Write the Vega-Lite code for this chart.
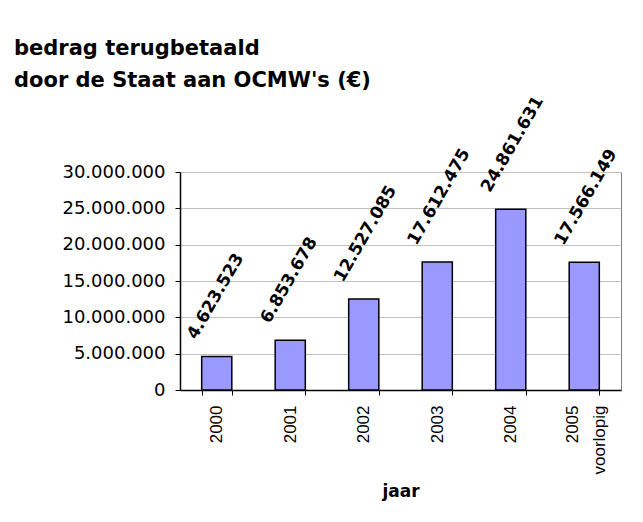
{
  "$schema": "https://vega.github.io/schema/vega-lite/v6.json",
  "width": 441,
  "height": 218,
  "autosize": {"type": "none"},
  "padding": {"left": 180, "top": 172, "right": 22, "bottom": 132},
  "background": "white",
  "config": {
    "locale": {"number": {"decimal": ",", "thousands": ".", "grouping": [3], "currency": ["€", ""]}},
    "font": "Liberation Sans",
    "view": {"stroke": "#808080", "strokeWidth": 1}
  },
  "title": {
    "text": ["bedrag terugbetaald", "door de Staat aan OCMW's (€)"],
    "anchor": "start",
    "frame": "group",
    "dx": -166,
    "fontSize": 21,
    "fontWeight": "bold",
    "font": "DejaVu Sans",
    "color": "black",
    "lineHeight": 32,
    "offset": 2
  },
  "data": {
    "values": [
      {"jaar": "2000", "bedrag": 4623523},
      {"jaar": "2001", "bedrag": 6853678},
      {"jaar": "2002", "bedrag": 12527085},
      {"jaar": "2003", "bedrag": 17612475},
      {"jaar": "2004", "bedrag": 24861631},
      {"jaar": "2005 voorlopig", "bedrag": 17566149}
    ]
  },
  "encoding": {
    "x": {
      "field": "jaar",
      "type": "nominal",
      "sort": null,
      "scale": {"paddingInner": 0.59, "paddingOuter": 0.295},
      "axis": {
        "title": "jaar",
        "titleFont": "DejaVu Sans",
        "titleFontSize": 17,
        "titleFontWeight": "bold",
        "titleColor": "black",
        "titlePadding": 10,
        "labelAngle": -90,
        "labelFontSize": 17,
        "labelColor": "black",
        "labelPadding": 10,
        "labelLineHeight": 27,
        "labelOffset": {"condition": {"test": "datum.value == '2005 voorlopig'", "value": -12}, "value": 0},
        "labelExpr": "datum.value == '2005 voorlopig' ? ['2005\u00a0\u00a0\u00a0\u00a0', 'voorlopig'] : datum.value",
        "bandPosition": 0,
        "tickBand": "extent",
        "tickSize": 5,
        "tickColor": "black",
        "domainColor": "black",
        "domainWidth": 1.5,
        "grid": false
      }
    },
    "y": {
      "field": "bedrag",
      "type": "quantitative",
      "scale": {"domain": [0, 30000000], "nice": false},
      "axis": {
        "title": null,
        "values": [0, 5000000, 10000000, 15000000, 20000000, 25000000, 30000000],
        "format": ",d",
        "labelFont": "DejaVu Sans",
        "labelFontSize": 18,
        "labelColor": "black",
        "labelPadding": 10,
        "tickSize": 5,
        "tickColor": "black",
        "domainColor": "black",
        "domainWidth": 1.5,
        "gridColor": "#c0c0c0",
        "gridWidth": 1
      }
    }
  },
  "layer": [
    {
      "mark": {"type": "bar", "fill": "#9999ff", "stroke": "black", "strokeWidth": 1.5}
    },
    {
      "mark": {
        "type": "text",
        "angle": 300,
        "align": "left",
        "baseline": "alphabetic",
        "dx": 3.5,
        "dy": -26,
        "fontSize": 17,
        "fontWeight": "bold",
        "font": "DejaVu Sans",
        "color": "black"
      },
      "encoding": {
        "text": {"field": "bedrag", "type": "quantitative", "format": ",d"}
      }
    }
  ]
}
